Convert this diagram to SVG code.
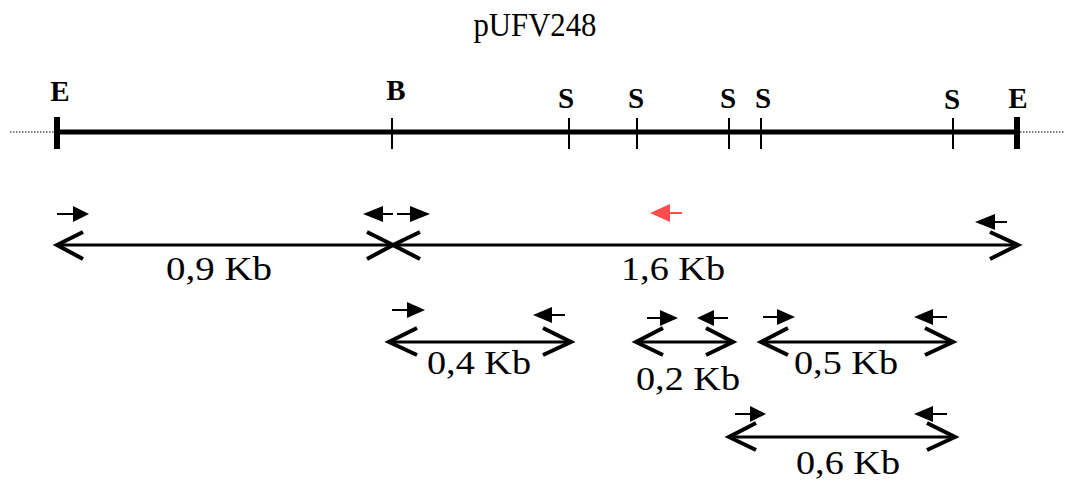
<svg xmlns="http://www.w3.org/2000/svg" width="1065" height="481" viewBox="0 0 1065 481">
<style>
.lbl{font-family:"Liberation Serif","Times New Roman",serif;font-size:33px;fill:#000;text-anchor:middle}
.site{font-family:"Liberation Serif","Times New Roman",serif;font-size:29px;font-weight:bold;fill:#000;text-anchor:middle}
.title{font-family:"Liberation Serif","Times New Roman",serif;font-size:33px;fill:#000;text-anchor:middle}
.seg{stroke:#000;stroke-width:3;fill:none}
.head{stroke:#000;stroke-width:4;fill:none;stroke-linecap:butt;stroke-linejoin:miter}
.tick{stroke:#000;stroke-width:2}
.pl{stroke-width:2}
</style>
<rect width="1065" height="481" fill="#fff"/>
<text class="title" x="535" y="36" textLength="123" lengthAdjust="spacingAndGlyphs">pUFV248</text>

<g id="map">
  <line x1="10" y1="132" x2="55" y2="132" stroke="#000" stroke-width="1" stroke-dasharray="1.5,1.5"/>
  <line x1="1020" y1="132" x2="1065" y2="132" stroke="#000" stroke-width="1" stroke-dasharray="1.5,1.5"/>
  <line x1="57" y1="132" x2="1017" y2="132" stroke="#000" stroke-width="5"/>
  <line x1="57" y1="117" x2="57" y2="149" stroke="#000" stroke-width="6"/>
  <line x1="1017" y1="117" x2="1017" y2="149" stroke="#000" stroke-width="6"/>
  <line class="tick" x1="392" y1="118" x2="392" y2="149"/>
  <line class="tick" x1="569" y1="118" x2="569" y2="149"/>
  <line class="tick" x1="637" y1="118" x2="637" y2="149"/>
  <line class="tick" x1="729" y1="118" x2="729" y2="149"/>
  <line class="tick" x1="761" y1="118" x2="761" y2="149"/>
  <line class="tick" x1="953" y1="118" x2="953" y2="149"/>
  <text class="site" x="60" y="101">E</text>
  <text class="site" x="396" y="100">B</text>
  <text class="site" x="566" y="108">S</text>
  <text class="site" x="636" y="108">S</text>
  <text class="site" x="728" y="108">S</text>
  <text class="site" x="763" y="108">S</text>
  <text class="site" x="952" y="109">S</text>
  <text class="site" x="1018" y="108">E</text>
</g>

<g id="frag09">
  <line class="seg" x1="58" y1="245" x2="392" y2="245"/>
  <polyline class="head" points="83,232 57,245 83,259"/>
  <polyline class="head" points="367,232 393,245 367,259"/>
  <text class="lbl" x="219" y="280" textLength="106" lengthAdjust="spacingAndGlyphs">0,9 Kb</text>
</g>
<g id="frag16">
  <line class="seg" x1="394" y1="245" x2="1017" y2="245"/>
  <polyline class="head" points="420,232 393,245 420,259"/>
  <polyline class="head" points="990,232 1018,245 990,259"/>
  <text class="lbl" x="673" y="280" textLength="104" lengthAdjust="spacingAndGlyphs">1,6 Kb</text>
</g>
<g id="frag04">
  <line class="seg" x1="389" y1="342" x2="571" y2="342"/>
  <polyline class="head" points="417,328 389,342 417,355"/>
  <polyline class="head" points="543,328 571,342 543,355"/>
  <text class="lbl" x="479" y="374" textLength="104" lengthAdjust="spacingAndGlyphs">0,4 Kb</text>
</g>
<g id="frag02">
  <line class="seg" x1="636" y1="342" x2="733" y2="342"/>
  <polyline class="head" points="663,328 636,342 663,355"/>
  <polyline class="head" points="706,328 733,342 706,355"/>
  <text class="lbl" x="688" y="390" textLength="104" lengthAdjust="spacingAndGlyphs">0,2 Kb</text>
</g>
<g id="frag05">
  <line class="seg" x1="761" y1="342" x2="952" y2="342"/>
  <polyline class="head" points="788,328 761,342 788,355"/>
  <polyline class="head" points="925,328 953,342 925,355"/>
  <text class="lbl" x="846" y="374" textLength="104" lengthAdjust="spacingAndGlyphs">0,5 Kb</text>
</g>
<g id="frag06">
  <line class="seg" x1="729" y1="437" x2="954" y2="437"/>
  <polyline class="head" points="756,423 729,437 756,450"/>
  <polyline class="head" points="927,423 955,437 927,450"/>
  <text class="lbl" x="848" y="474" textLength="104" lengthAdjust="spacingAndGlyphs">0,6 Kb</text>
</g>

<g id="primers" fill="#000" stroke="#000">
  <line class="pl" x1="57" y1="214" x2="74" y2="214"/>
  <polygon stroke="none" points="73,206 89,214 73,222"/>
  <line class="pl" x1="382" y1="214" x2="393" y2="214"/>
  <polygon stroke="none" points="383,206 363,214 383,222"/>
  <line class="pl" x1="397" y1="214" x2="411" y2="214"/>
  <polygon stroke="none" points="410,206 430,214 410,222"/>
  <g fill="#ff4d4d" stroke="#ff4d4d">
    <line class="pl" x1="669" y1="213" x2="682" y2="213"/>
    <polygon stroke="none" points="670,204 650,213 670,222"/>
  </g>
  <line class="pl" x1="994" y1="222" x2="1007" y2="222"/>
  <polygon stroke="none" points="995,214 975,222 995,230"/>
  <line class="pl" x1="392" y1="310" x2="408" y2="310"/>
  <polygon stroke="none" points="407,302 425,310 407,318"/>
  <line class="pl" x1="551" y1="315" x2="565" y2="315"/>
  <polygon stroke="none" points="552,307 533,315 552,323"/>
  <line class="pl" x1="647" y1="318" x2="661" y2="318"/>
  <polygon stroke="none" points="660,310 678,318 660,326"/>
  <line class="pl" x1="712" y1="318" x2="728" y2="318"/>
  <polygon stroke="none" points="714,310 697,318 714,326"/>
  <line class="pl" x1="763" y1="317" x2="778" y2="317"/>
  <polygon stroke="none" points="777,309 795,317 777,325"/>
  <line class="pl" x1="932" y1="317" x2="947" y2="317"/>
  <polygon stroke="none" points="933,309 914,317 933,325"/>
  <line class="pl" x1="735" y1="414" x2="751" y2="414"/>
  <polygon stroke="none" points="750,406 766,414 750,422"/>
  <line class="pl" x1="932" y1="414" x2="947" y2="414"/>
  <polygon stroke="none" points="933,406 914,414 933,422"/>
</g>
</svg>
